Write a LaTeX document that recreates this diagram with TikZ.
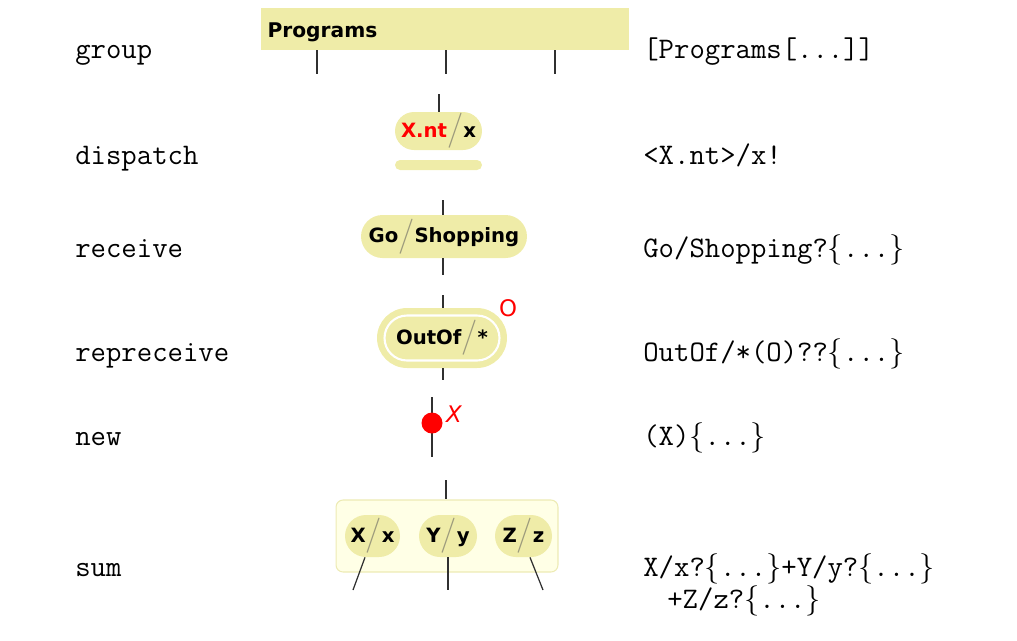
\documentclass[tikz,border=0pt]{standalone}
\usepackage{fontspec}
\newfontfamily\pillfont{DejaVu Sans}
\usepackage{xcolor}
\usepackage{tikz}
\usetikzlibrary{shapes.misc,positioning}
\definecolor{pillfill}{HTML}{EFECA8}
\definecolor{sumfill}{HTML}{FFFFE6}
\definecolor{sumline}{HTML}{EDEBB4}
\definecolor{linkgray}{HTML}{303030}
\definecolor{slashgray}{HTML}{9C9A7C}
\newcommand{\pslash}{{\color{slashgray}\normalfont\fontsize{20}{20}\selectfont\raisebox{-1.5pt}{/}}}
\newcommand{\dotsbr}{$\{$...$\}$}
\tikzset{
  rowlabel/.style={anchor=mid west, inner sep=0pt, font=\fontsize{17}{18.1}\selectfont\ttfamily},
  codelabel/.style={anchor=mid west, inner sep=0pt, font=\fontsize{17}{18.5}\selectfont\ttfamily},
  groupbar/.style={fill=pillfill, minimum width=7.36cm, minimum height=0.84cm, text width=7.1cm, text height=1.2em, text depth=0.25em, align=left, inner sep=0pt, font=\pillfont\bfseries\fontsize{11.5}{13}\selectfont},
  pill/.style={rectangle, rounded corners=#1, fill=pillfill, inner sep=0pt, font=\pillfont\bfseries\fontsize{11.2}{13}\selectfont},
  sumbox/.style={draw=sumline, fill=sumfill, rounded corners=4pt, line width=0.6pt, minimum width=4.44cm, minimum height=1.44cm},
  newdot/.style={circle, fill=red, inner sep=0pt, minimum size=0.42cm},
  redmark/.style={text=red, inner sep=0pt, font=\pillfont\fontsize{13}{15}\selectfont},
  link/.style={draw=linkgray, line width=0.7pt}
}
\begin{document}
\begin{tikzpicture}[x=0.02cm, y=-0.02cm]
\useasboundingbox (0,0) rectangle (1017,640);
% left column
\node[rowlabel] (groupLabel) at (75,55) {group};
\node[rowlabel] (dispatchLabel) at (75,161) {dispatch};
\node[rowlabel] (receiveLabel) at (75,254) {receive};
\node[rowlabel] (repreceiveLabel) at (75,358) {repreceive};
\node[rowlabel] (newLabel) at (75,442) {new};
\node[rowlabel] (sumLabel) at (75,573) {sum};
% right column
\node[codelabel] (groupCode) at (643,55) {[Programs[...]]};
\node[codelabel] (dispatchCode) at (643,161) {<X.nt>/x!};
\node[codelabel] (receiveCode) at (643,254) {Go/Shopping?\dotsbr};
\node[codelabel] (repreceiveCode) at (643,358) {OutOf/*(O)??\dotsbr};
\node[codelabel] (newCode) at (643,442) {(X)\dotsbr};
\node[codelabel, anchor=north west, align=left] (sumCode) at (643,553) {X/x?\dotsbr+Y/y?\dotsbr\\\hspace*{0.48cm}+Z/z?\dotsbr};
% group
\node[groupbar] (programs) at (445,29) {Programs};
\foreach \n/\x in {ga/317,gb/446,gc/555} {
  \coordinate (\n) at (\x,74);
  \draw[link] (programs.south -| \n) -- (\n);
}
% dispatch
\node[pill=0.38cm, minimum width=1.74cm, minimum height=0.76cm] (dispatch) at (438.5,131) {\textcolor{red}{X.nt}\pslash x};
\node[pill=0.1cm, minimum width=1.74cm, minimum height=0.2cm] (dispatchBar) at (438.5,165) {};
\coordinate (dispatchTop) at (439,94);
\draw[link] (dispatchTop) -- (dispatch.north -| dispatchTop);
% receive
\node[pill=0.43cm, minimum width=3.32cm, minimum height=0.86cm] (receive) at (444,236.5) {Go\pslash Shopping};
\coordinate (receiveTop) at (443,200);
\coordinate (receiveBot) at (443,275);
\draw[link] (receiveTop) -- (receive.north -| receiveTop);
\draw[link] (receive.south -| receiveBot) -- (receiveBot);
% repreceive
\node[pill=0.6cm, minimum width=2.6cm, minimum height=1.2cm] (repOuter) at (442,338) {};
\node[pill=0.45cm, draw=white, line width=1.2pt, minimum width=2.3cm, minimum height=0.9cm] (repInner) at (442,338) {OutOf\pslash*};
\node[redmark] (repMark) at (508,308) {O};
\coordinate (repTop) at (443,295);
\coordinate (repBot) at (443,380);
\draw[link] (repTop) -- (repOuter.north -| repTop);
\draw[link] (repOuter.south -| repBot) -- (repBot);
% new
\coordinate (newTop) at (432,397);
\coordinate (newBot) at (432,457);
\draw[link] (newTop) -- (newBot);
\node[newdot] (newDot) at (432,423) {};
\node[redmark, font=\pillfont\itshape\fontsize{13}{15}\selectfont] (newMark) at (454,414) {X};
% sum
\node[sumbox] (sum) at (447,536) {};
\node[pill=0.42cm, minimum width=1.1cm, minimum height=0.84cm] (sumX) at (372.5,536) {X\pslash x};
\node[pill=0.42cm, minimum width=1.16cm, minimum height=0.84cm] (sumY) at (448,536) {Y\pslash y};
\node[pill=0.42cm, minimum width=1.14cm, minimum height=0.84cm] (sumZ) at (523.5,536) {Z\pslash z};
\coordinate (sumTop) at (446,480);
\coordinate (sumXBot) at (353,590);
\coordinate (sumYBot) at (448,590);
\coordinate (sumZBot) at (543,590);
\draw[link] (sumTop) -- (sum.north -| sumTop);
\draw[link] (sumX.south) ++(-7.5,0) -- (sumXBot);
\draw[link] (sumY.south) -- (sumYBot);
\draw[link] (sumZ.south) ++(6.5,0) -- (sumZBot);
\end{tikzpicture}
\end{document}
